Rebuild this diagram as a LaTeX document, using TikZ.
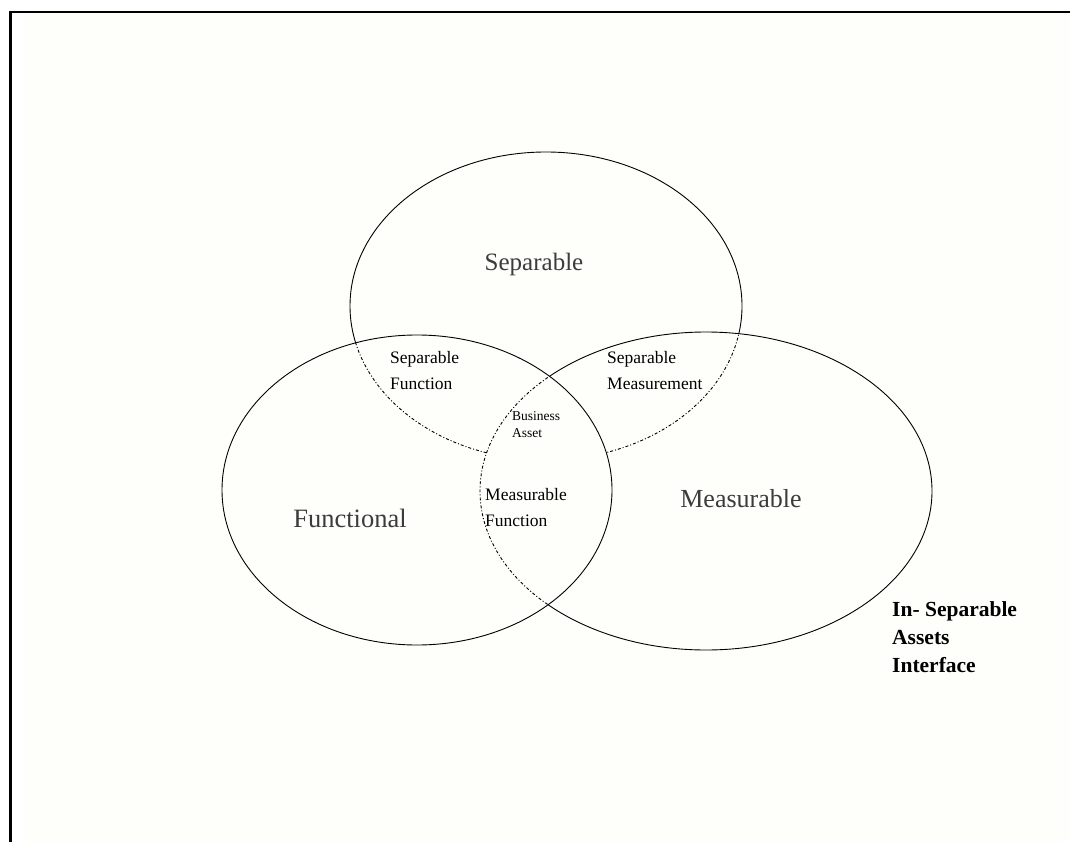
\documentclass[tikz,border=0pt]{standalone}
\usepackage{fontspec}
\setmainfont{Liberation Serif}
\usetikzlibrary{positioning}

\definecolor{paper}{RGB}{254,254,250}
\definecolor{labelgrey}{RGB}{60,60,60}

% the three sets, drawn about named centres
\newcommand{\sepset}{(sepc) ellipse [x radius=196, y radius=154]}
\newcommand{\funset}{(func) ellipse [x radius=195, y radius=155]}
\newcommand{\measset}{(measc) ellipse [x radius=226, y radius=159]}
\newcommand{\wholepage}{(0,0) rectangle (1070,842)}

\begin{document}
\begin{tikzpicture}[x=1pt, y=-1pt,
        ring/.style={line width=0.9pt},
        hidden/.style={line width=0.9pt, dash pattern=on 3pt off 2pt on 1pt off 2pt},
        biglabel/.style={text=labelgrey, inner sep=0pt, anchor=base},
        smalllabel/.style={font=\fontsize{17.5}{26}\selectfont, align=left, inner sep=0pt, anchor=north west}]
    \useasboundingbox \wholepage;
    \fill[paper] (25,13) rectangle (1070,842);
    \draw[line width=2.3pt] (10.5,842) -- (10.5,12) -- (1070,12);

    \coordinate (sepc) at (546,306);
    \coordinate (func) at (417,490);
    \coordinate (measc) at (706,491);

    % functional is solid all round
    \draw[ring] \funset;
    % separable: solid outside the other two, broken where it crosses one of them
    \begin{scope}[even odd rule]
        \clip \wholepage \funset;
        \clip \wholepage \measset;
        \draw[ring] \sepset;
    \end{scope}
    \begin{scope}[even odd rule]
        \clip \funset;
        \clip \wholepage \measset;
        \draw[hidden] \sepset;
    \end{scope}
    \begin{scope}[even odd rule]
        \clip \measset;
        \clip \wholepage \funset;
        \draw[hidden] \sepset;
    \end{scope}
    % measurable: broken inside functional
    \begin{scope}[even odd rule]
        \clip \wholepage \funset;
        \draw[ring] \measset;
    \end{scope}
    \begin{scope}
        \clip \funset;
        \draw[hidden] \measset;
    \end{scope}

    \node[biglabel, font=\fontsize{25}{30}\selectfont] (sep) at (534,270) {Separable};
    \node[biglabel, font=\fontsize{26.5}{30}\selectfont] (fun) at (350,527) {Functional};
    \node[biglabel, font=\fontsize{26}{30}\selectfont] (meas) at (741,507) {Measurable};

    \node[smalllabel] (sepfun) at (390,351) {Separable\\Function};
    \node[smalllabel] (sepmeas) at (607,351) {Separable\\Measurement};
    \node[smalllabel, font=\fontsize{13.5}{17}\selectfont] (asset) at (512,411) {Business\\Asset};
    \node[smalllabel] (measfun) at (485,488) {Measurable\\Function};

    \node[smalllabel, font=\fontsize{21.5}{28}\selectfont\bfseries] (iface) at (892,601)
        {In- Separable\\Assets\\Interface};
\end{tikzpicture}
\end{document}
